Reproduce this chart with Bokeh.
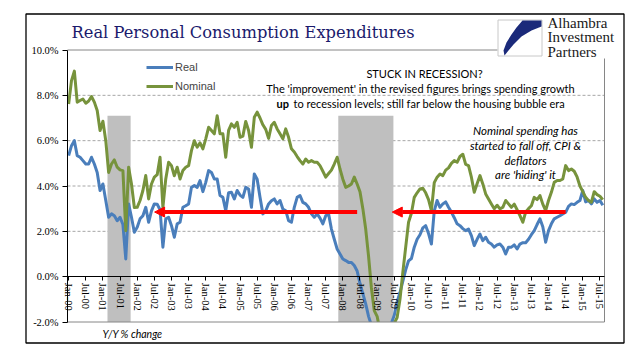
from bokeh.plotting import figure
from bokeh.models import (Range1d, LinearAxis, FixedTicker, ColumnDataSource, Arrow,
                          NormalHead, Legend, LegendItem)
from bokeh.core.properties import value
from bokeh.embed import file_html
from bokeh.resources import INLINE

# ---------------- data (Y/Y % change, monthly Jan-00 .. Aug-15) ----------------
real = [
    5.34, 5.78, 6.00, 5.34, 5.27, 5.12, 4.97, 4.97, 5.27, 4.97, 4.60, 3.80,   # 2000
    4.09, 3.36, 2.62, 2.77, 2.69, 2.47, 2.62, 2.30, 0.78, 3.21, 2.62, 1.96,   # 2001
    2.18, 2.55, 2.69, 3.06, 2.40, 2.90, 3.21, 3.20, 2.95, 1.30, 2.55, 2.62,   # 2002
    2.25, 1.74, 2.33, 2.40, 3.06, 3.13, 3.21, 3.94, 4.02, 3.94, 4.24, 3.75,   # 2003
    4.16, 4.68, 4.60, 4.31, 4.31, 3.58, 3.50, 2.91, 3.70, 3.72, 3.43, 3.80,   # 2004
    3.60, 3.50, 3.94, 3.87, 3.06, 4.53, 4.30, 3.50, 2.77, 2.91, 3.21, 3.35,   # 2005
    3.43, 3.21, 3.36, 2.99, 2.91, 2.47, 2.40, 3.06, 3.50, 3.58, 3.28, 3.21,   # 2006
    3.06, 2.77, 2.62, 2.77, 2.58, 2.33, 2.69, 2.77, 2.10, 1.65, 1.22, 1.00,   # 2007
    0.78, 0.71, 0.63, 0.63, 0.49, 0.25, -0.30, -0.75, -1.20, -1.75, -2.15, -2.35,  # 2008
    -2.50, -2.65, -2.70, -2.60, -2.40, -2.05, -1.70, -1.10, -0.70, -0.20, 0.30, 0.70,  # 2009
    0.80, 1.30, 1.65, 1.85, 2.15, 2.25, 1.90, 1.44, 2.90, 3.36, 3.06, 3.21,   # 2010
    3.30, 3.06, 2.85, 2.60, 2.33, 2.25, 2.12, 2.03, 2.10, 1.81, 1.37, 1.65,   # 2011
    1.88, 1.59, 1.74, 1.52, 1.44, 1.30, 1.40, 1.44, 1.30, 1.00, 1.30, 1.30,   # 2012
    1.40, 1.22, 1.44, 1.50, 1.50, 1.65, 1.85, 2.03, 2.30, 2.55, 2.20, 1.52,   # 2013
    2.03, 2.33, 2.55, 2.62, 2.69, 2.77, 2.84, 3.10, 3.21, 3.18, 3.28, 3.36,   # 2014
    3.80, 3.30, 3.36, 3.21, 3.43, 3.28, 3.36, 3.15,                           # 2015
]
nominal = [
    7.62, 8.65, 9.07, 7.70, 7.77, 7.84, 7.65, 7.75, 7.95, 7.70, 7.33, 6.45,   # 2000
    6.86, 6.00, 4.60, 4.97, 5.15, 4.83, 4.71, 4.68, 2.03, 4.83, 4.09, 3.05,   # 2001
    3.06, 3.36, 3.80, 4.46, 3.43, 4.09, 4.39, 4.50, 5.27, 3.06, 4.31, 5.05,   # 2002
    4.90, 4.45, 4.83, 4.31, 4.68, 4.83, 4.90, 5.56, 6.00, 5.71, 5.90, 5.64,   # 2003
    6.08, 6.59, 6.45, 6.30, 7.10, 6.30, 6.30, 5.27, 6.45, 6.74, 6.59, 6.81,   # 2004
    6.15, 6.20, 6.85, 6.45, 5.71, 7.03, 7.26, 7.00, 6.70, 6.50, 6.10, 6.67,   # 2005
    6.81, 6.52, 6.30, 6.08, 6.52, 6.15, 5.64, 5.50, 5.30, 5.12, 4.97, 5.19,   # 2006
    5.05, 5.12, 5.05, 5.05, 4.90, 4.65, 4.39, 4.55, 4.70, 4.97, 5.27, 4.75,   # 2007
    4.30, 3.94, 4.00, 4.09, 4.39, 4.09, 3.75, 3.00, 2.10, 0.90, -0.50, -1.50,  # 2008
    -1.75, -2.40, -2.80, -3.00, -2.80, -2.40, -2.05, -1.80, -1.00, 0.20, 1.30, 2.40,  # 2009
    2.80, 3.50, 3.70, 3.87, 3.90, 3.70, 3.40, 2.91, 4.15, 4.39, 4.53, 4.46,   # 2010
    4.70, 4.80, 5.00, 5.12, 5.05, 5.30, 5.40, 4.95, 4.90, 4.39, 3.72, 4.10,   # 2011
    4.46, 4.09, 3.65, 3.43, 3.21, 3.00, 3.15, 2.99, 3.06, 3.36, 3.21, 3.06,   # 2012
    3.20, 2.95, 2.69, 2.40, 2.85, 3.00, 3.13, 3.50, 3.40, 3.58, 3.20, 2.91,   # 2013
    3.36, 3.72, 4.16, 4.24, 4.24, 4.31, 4.90, 4.68, 4.75, 4.65, 4.40, 4.00,   # 2014
    3.75, 3.50, 3.36, 3.28, 3.75, 3.62, 3.55, 3.40,                           # 2015
]
month_index = list(range(len(real)))

tick_labels = ["Jan-00", "Jul-00", "Jan-01", "Jul-01", "Jan-02", "Jul-02", "Jan-03", "Jul-03",
               "Jan-04", "Jul-04", "Jan-05", "Jul-05", "Jan-06", "Jul-06", "Jan-07", "Jul-07",
               "Jan-08", "Jul-08", "Jan-09", "Jul-09", "Jan-10", "Jul-10", "Jan-11", "Jul-11",
               "Jan-12", "Jul-12", "Jan-13", "Jul-13", "Jan-14", "Jul-14", "Jan-15", "Jul-15"]
tick_pos = [6 * i for i in range(len(tick_labels))]
y_ticks = [-2, 0, 2, 4, 6, 8, 10]
grid_ticks = [2, 4, 6, 8]
y_min, y_max = -2, 10

rec_start = [13.6, 94.4]     # recession shading (month index)
rec_end = [21.7, 113.7]
rec_top = [7.1, 7.1]

arrow_from = [101.0, 174.0]  # red arrows (month index)
arrow_to = [30.1, 113.3]
arrow_level = [2.85, 2.85]

# ---------------- layout geometry (canvas pixels) ----------------
W, H = 641, 358
PX_L, PX_R, PY_T, PY_B = 67, 604, 49.5, 321.5      # plot area on the canvas
XL, XR = -0.4, 187.6                                # month span of the plot area
PPM = (PX_R - PX_L) / (XR - XL)
PPV = (PY_B - PY_T) / (y_max - y_min)


def X(px):
    return XL + (px - PX_L) / PPM


def Y(py):
    return y_max - (py - PY_T) / PPV


p = figure(width=W, height=H, output_backend="svg", toolbar_location=None,
           x_range=Range1d(X(0), X(W)), y_range=Range1d(Y(H), Y(0)),
           x_axis_location=None, y_axis_location=None, min_border=0,
           background_fill_color="white", border_fill_color="white")
p.outline_line_color = None
p.grid.visible = False

# y axis
yaxis = LinearAxis(fixed_location=XL, bounds=(y_min, y_max), ticker=FixedTicker(ticks=y_ticks),
                   major_label_overrides={t: f"{t:.1f}%" for t in y_ticks},
                   axis_line_color="black", major_tick_line_color="black",
                   major_tick_out=5, major_tick_in=0, minor_tick_line_color=None,
                   major_label_text_font="Liberation Serif", major_label_text_font_size="10.5px",
                   major_label_text_color="black", major_label_standoff=4)
p.add_layout(yaxis, "left")

# x axis (crossing at 0 %)
xaxis = LinearAxis(fixed_location=0, bounds=(XL, XR), ticker=FixedTicker(ticks=tick_pos),
                   major_label_overrides={pos: lab for pos, lab in zip(tick_pos, tick_labels)},
                   major_label_orientation="vertical",
                   axis_line_color="black", major_tick_line_color="black",
                   major_tick_out=4, major_tick_in=0, minor_tick_line_color=None,
                   major_label_text_font="Liberation Serif", major_label_text_font_size="10.5px",
                   major_label_text_color="black", major_label_standoff=2)
p.add_layout(xaxis, "below")

# gridlines
p.segment(x0=[XL] * len(grid_ticks), x1=[XR] * len(grid_ticks), y0=grid_ticks, y1=grid_ticks,
          line_color="#a6a6a6", line_dash="3 2", line_width=1)

# recession shading
p.quad(left=rec_start, right=rec_end, bottom=[y_min] * 2, top=rec_top,
       fill_color="#bfbfbf", line_color=None)

# series
r_real = p.line(month_index, real, line_color="#4a7ebb", line_width=3, line_join="round")
r_nom = p.line(month_index, nominal, line_color="#77933c", line_width=3, line_join="round")

# keep the series inside the plot area (clip below the -2 % floor)
p.quad(left=[X(PX_L + 0.5)], right=[X(W)], top=[y_min], bottom=[Y(H)],
       fill_color="white", line_color=None)

# plot-area frame (top, right, bottom)
p.segment(x0=[XL, XR, XL], x1=[XR, XR, XR], y0=[y_max, y_max, y_min], y1=[y_max, y_min, y_min],
          line_color="#868686", line_width=1)

# red arrows
arrow_src = ColumnDataSource(dict(x0=arrow_from, x1=arrow_to, y=arrow_level))
p.add_layout(Arrow(end=NormalHead(size=10, fill_color="#ff0000", line_color="#ff0000", line_width=1),
                   x_start="x0", y_start="y", x_end="x1", y_end="y", source=arrow_src,
                   line_color="#ff0000", line_width=4))

legend = Legend(items=[LegendItem(label="Real", renderers=[r_real]),
                       LegendItem(label="Nominal", renderers=[r_nom])],
                location=(146, H - 94), orientation="vertical", glyph_width=27, glyph_height=16,
                label_height=16, label_standoff=2, spacing=3, padding=0, margin=0,
                background_fill_alpha=0, border_line_alpha=0,
                label_text_font="Liberation Sans", label_text_font_size="11px")
p.add_layout(legend)

# annotation texts inside the plot
ann_font = value("Lato")
p.text(x=[X(424)], y=[Y(73)], text=["STUCK IN RECESSION?"], text_font=ann_font,
       text_font_size="11px", text_align="center", text_baseline="middle", text_color="black")
p.text(x=[X(420)], y=[Y(88)], text=["The 'improvement' in the revised figures brings spending growth"],
       text_font=ann_font, text_font_size="11px", text_align="center", text_baseline="middle",
       text_color="black")
p.text(x=[X(276)], y=[Y(103)], text=["up"], text_font=ann_font, text_font_style="bold",
       text_font_size="11px", text_align="left", text_baseline="middle", text_color="black")
p.text(x=[X(293)], y=[Y(103)], text=["to recession levels; still far below the housing bubble era"],
       text_font=ann_font, text_font_size="11px", text_align="left", text_baseline="middle",
       text_color="black")
p.text(x=[X(525)] * 4, y=[Y(130), Y(145), Y(160), Y(174)],
       text=["Nominal spending has", "started to fall off, CPI &", "deflators", "are 'hiding' it"],
       text_font=ann_font, text_font_style="italic", text_font_size="11.5px",
       text_align="center", text_baseline="middle", text_color="black")

# title and footnote
p.text(x=[X(71)], y=[Y(32)], text=["Real Personal Consumption Expenditures"],
       text_font=value("DejaVu Serif"), text_font_size="16.3px", text_color="#1a1a6c",
       text_baseline="middle", text_align="left")
p.text(x=[X(132)], y=[Y(333)], text=["Y/Y % change"], text_font=ann_font,
       text_font_style="italic", text_font_size="10.5px", text_color="black",
       text_align="center", text_baseline="middle")

# logo
p.quad(left=[X(497)], right=[X(623)], top=[Y(13)], bottom=[Y(58)],
       fill_color="white", line_color=None)
p.quad(left=[X(497.5)], right=[X(541.5)], top=[Y(19.5)], bottom=[Y(55.5)],
       fill_color="white", line_color="#c8c8c8", line_width=1)
logo_px = [522, 541, 541, 531, 521, 513, 508, 504, 503, 506, 511, 516]
logo_py = [20, 20, 26, 30, 36, 44, 50, 55, 50, 42, 34, 27]
p.patch(x=[X(v) for v in logo_px], y=[Y(v) for v in logo_py],
        fill_color="#1b2a7a", line_color=None)
p.text(x=[X(547)] * 3, y=[Y(22), Y(36.5), Y(51)], text=["Alhambra", "Investment", "Partners"],
       text_font=value("Liberation Serif"), text_font_size="15px", text_color="#1a1a1a",
       text_baseline="middle", text_align="left")

# outer border
p.quad(left=[X(25.5)], right=[X(623.5)], top=[Y(13.5)], bottom=[Y(342.5)],
       fill_alpha=0, line_color="black", line_width=1.3)

open("out.html", "w").write(file_html(p, INLINE))
